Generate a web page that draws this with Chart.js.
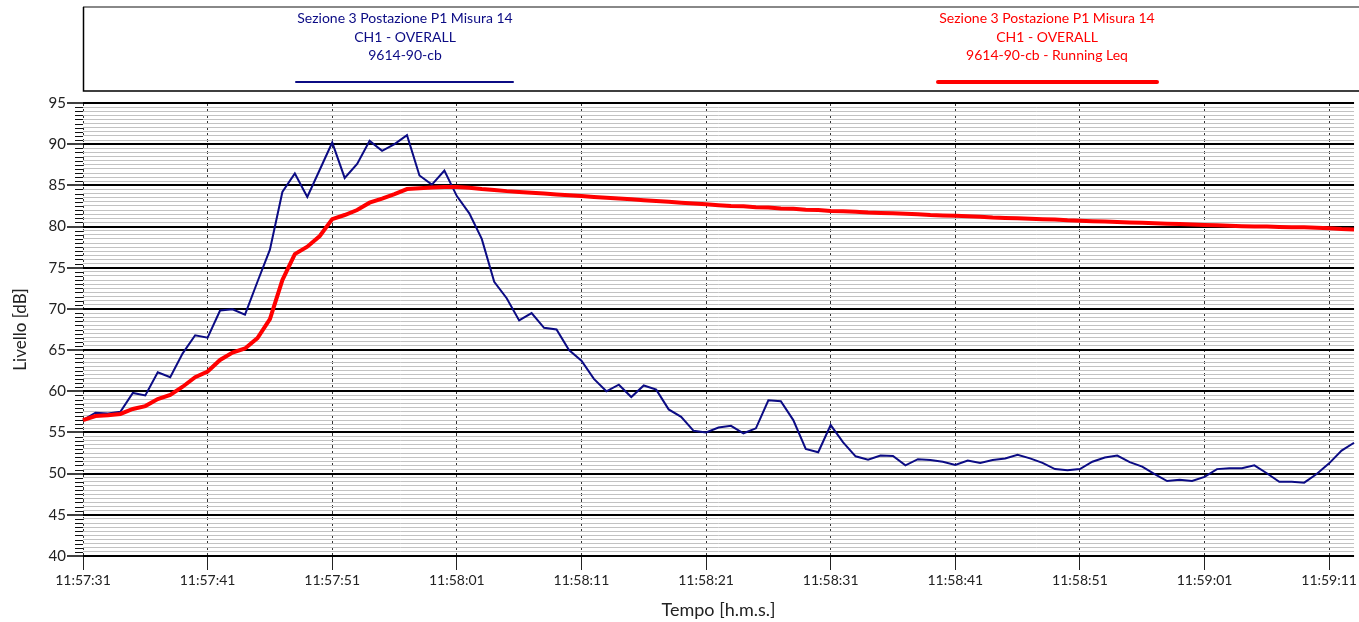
<!DOCTYPE html>
<html>
<head>
<meta charset="utf-8">
<script src="https://cdn.jsdelivr.net/npm/chart.js@4.4.1/dist/chart.umd.min.js"></script>
<style>
  html, body { margin: 0; padding: 0; background: #fff; }
  canvas { display: block; }
</style>
</head>
<body>
<canvas id="c" width="1359" height="622"></canvas>
<script>
// ---- data (1 sample per second, starting 11:57:31) ----
const startTime = [11, 57, 31];
const overallDb = [
  56.5, 57.4, 57.3, 57.5, 59.8, 59.5, 62.3, 61.7, 64.6, 66.8,
  66.5, 69.8, 69.95, 69.3, 73.3, 77.2, 84.2, 86.45, 83.6, 86.9,
  90.2, 85.9, 87.6, 90.4, 89.2, 90.0, 91.1, 86.2, 85.1, 86.8,
  83.7, 81.6, 78.5, 73.3, 71.3, 68.6, 69.5, 67.7, 67.5, 65.0,
  63.7, 61.5, 60.0, 60.8, 59.3, 60.7, 60.2, 57.8, 56.9, 55.2,
  55.0, 55.6, 55.8, 54.9, 55.5, 58.9, 58.8, 56.5, 53.0, 52.6,
  55.9, 53.8, 52.1, 51.7, 52.2, 52.15, 51.0, 51.75, 51.65, 51.45,
  51.05, 51.6, 51.3, 51.65, 51.85, 52.3, 51.85, 51.3, 50.55, 50.4,
  50.55, 51.45, 51.95, 52.2, 51.4, 50.85, 49.95, 49.1, 49.25, 49.1,
  49.6, 50.55, 50.65, 50.65, 51.0, 50.05, 49.0, 49.0, 48.9, 49.95,
  51.25, 52.8, 53.75
];
const runningLeqDb = [
  56.5, 57.0, 57.1, 57.25, 57.85, 58.2, 59.05, 59.55, 60.55, 61.7,
  62.4, 63.8, 64.7, 65.2, 66.45, 68.75, 73.5, 76.65, 77.55, 78.85,
  80.9, 81.4, 82.0, 82.9, 83.4, 83.95, 84.55, 84.65, 84.75, 84.8,
  84.8, 84.7, 84.55, 84.45, 84.3, 84.2, 84.1, 84.0, 83.9, 83.8,
  83.7, 83.6, 83.5, 83.4, 83.3, 83.2, 83.1, 83.0, 82.9, 82.8,
  82.7, 82.6, 82.5, 82.45, 82.35, 82.3, 82.2, 82.15, 82.05, 82.0,
  81.9, 81.85, 81.8, 81.7, 81.65, 81.6, 81.55, 81.5, 81.4, 81.35,
  81.3, 81.25, 81.2, 81.1, 81.05, 81.0, 80.95, 80.9, 80.85, 80.75,
  80.7, 80.65, 80.6, 80.55, 80.5, 80.45, 80.4, 80.35, 80.3, 80.25,
  80.2, 80.15, 80.1, 80.05, 80.0, 80.0, 79.95, 79.9, 79.9, 79.85,
  79.8, 79.7, 79.65
];
const yMin = 40, yMax = 95, yMinorStep = 0.5, yMajorStep = 5;
const xLabelEvery = 10;
const legendBlue = ["Sezione 3 Postazione P1 Misura 14", "CH1 - OVERALL", "9614-90-cb"];
const legendRed  = ["Sezione 3 Postazione P1 Misura 14", "CH1 - OVERALL", "9614-90-cb - Running Leq"];

// category labels (time of each sample)
function fmt(n) { return String(n).padStart(2, '0'); }
const timeLabels = overallDb.map((_, i) => {
  let s = startTime[0] * 3600 + startTime[1] * 60 + startTime[2] + i;
  const h = Math.floor(s / 3600); s -= h * 3600;
  const m = Math.floor(s / 60); s -= m * 60;
  return h + ':' + fmt(m) + ':' + fmt(s);
});

const FONT = "Lato, 'Open Sans', sans-serif";
const BLUE = '#0b0b84';
const RED = '#ff0000';

const isMajor = v => Math.abs(v / yMajorStep - Math.round(v / yMajorStep)) < 1e-6;

const extras = {
  id: 'extras',
  afterDraw(chart) {
    const ctx = chart.ctx;
    const ys = chart.scales.y;
    const area = chart.chartArea;
    ctx.save();
    // minor ticks on y axis
    ctx.strokeStyle = '#111';
    ctx.lineWidth = 1;
    for (let v = yMin; v <= yMax + 1e-9; v += yMinorStep) {
      if (isMajor(v)) continue;
      const py = Math.round(ys.getPixelForValue(v)) + 0.5;
      ctx.beginPath();
      ctx.moveTo(area.left - 8, py);
      ctx.lineTo(area.left, py);
      ctx.stroke();
    }
    // legend box
    ctx.strokeStyle = '#888';
    ctx.lineWidth = 2;
    ctx.beginPath(); ctx.moveTo(83, 7); ctx.lineTo(1359, 7); ctx.stroke();
    ctx.strokeStyle = '#000';
    ctx.lineWidth = 1.5;
    ctx.beginPath(); ctx.moveTo(83.5, 7); ctx.lineTo(83.5, 91); ctx.lineTo(1359, 91); ctx.stroke();
    ctx.font = "14px " + FONT;
    ctx.textAlign = 'center';
    ctx.textBaseline = 'middle';
    const rows = [18, 37, 55];
    const ds = chart.data.datasets;
    [[legendBlue, 405, 296, 513, ds[0]], [legendRed, 1047, 938, 1157, ds[1]]].forEach(([lines, cx, x0, x1, d]) => {
      ctx.fillStyle = d.borderColor;
      lines.forEach((t, i) => ctx.fillText(t, cx, rows[i]));
      ctx.strokeStyle = d.borderColor;
      ctx.lineWidth = d.borderWidth;
      ctx.lineCap = 'round';
      ctx.beginPath(); ctx.moveTo(x0, 82); ctx.lineTo(x1, 82); ctx.stroke();
    });
    ctx.restore();
  }
};

new Chart(document.getElementById('c'), {
  type: 'line',
  data: {
    labels: timeLabels,
    datasets: [
      { label: legendBlue.join(' '), data: overallDb, borderColor: BLUE, borderWidth: 2, pointRadius: 0, tension: 0, order: 2 },
      { label: legendRed.join(' '), data: runningLeqDb, borderColor: RED, borderWidth: 4, pointRadius: 0, tension: 0, order: 1 }
    ]
  },
  options: {
    responsive: false,
    animation: false,
    layout: { padding: { top: 103, right: 1, left: 0, bottom: 0 } },
    plugins: { legend: { display: false }, tooltip: { enabled: false } },
    scales: {
      x: {
        type: 'category',
        offset: false,
        afterFit(s) { s.height = 66; },
        border: { display: false, dash: [3, 3] },
        grid: {
          offset: false,
          color: '#333',
          lineWidth: 1,
          drawTicks: true,
          tickLength: 14,
          tickColor: '#222',
          tickWidth: 1,
          tickBorderDash: []
        },
        ticks: {
          autoSkip: false,
          maxRotation: 0,
          minRotation: 0,
          padding: 2,
          color: '#222',
          font: { family: FONT, size: 14 },
          callback(val, idx) { return idx % xLabelEvery === 0 ? this.getLabelForValue(val) : null; }
        },
        title: {
          display: true,
          text: 'Tempo [h.m.s.]',
          color: '#222',
          font: { family: FONT, size: 18 },
          padding: { top: 0, bottom: 1 }
        }
      },
      y: {
        type: 'linear',
        min: yMin,
        max: yMax,
        afterFit(s) { s.width = 83; },
        border: { display: false },
        grid: {
          color: c => isMajor(c.tick.value) ? '#000' : '#c2c2c2',
          lineWidth: c => isMajor(c.tick.value) ? 2 : 1,
          drawTicks: true,
          tickLength: 16,
          tickWidth: 1.5,
          tickColor: c => isMajor(c.tick.value) ? '#000' : 'rgba(0,0,0,0)'
        },
        ticks: {
          stepSize: yMinorStep,
          autoSkip: false,
          padding: 1,
          color: '#222',
          font: { family: FONT, size: 15 },
          callback: v => isMajor(v) ? String(Math.round(v)) : ''
        },
        title: {
          display: true,
          text: 'Livello [dB]',
          color: '#222',
          font: { family: FONT, size: 17 },
          padding: { top: 10, bottom: 0 }
        }
      }
    }
  },
  plugins: [extras]
});
</script>
</body>
</html>
